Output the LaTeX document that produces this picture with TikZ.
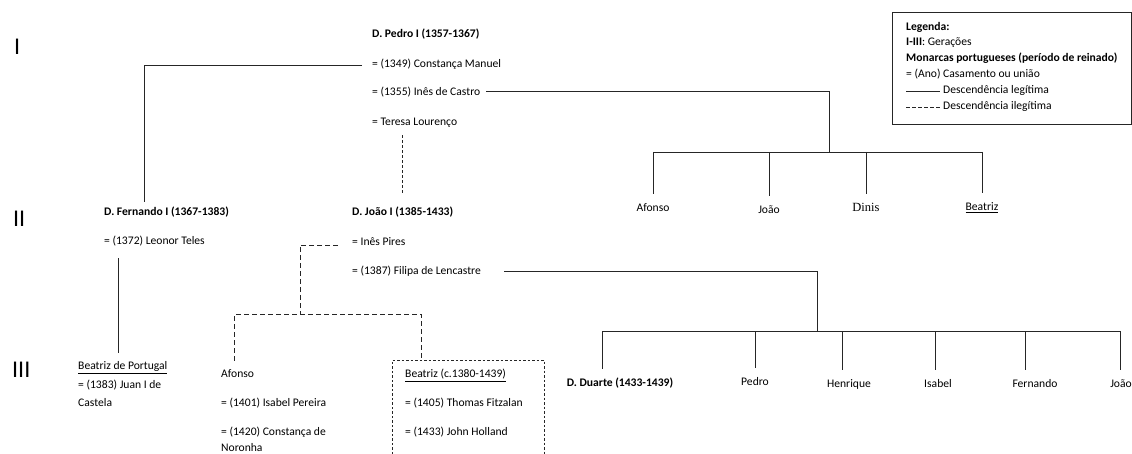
\documentclass[tikz,border=0pt]{standalone}
\usepackage{fontspec}
\setmainfont{Carlito}
\newfontfamily\timesfont{Liberation Serif}
\usepackage{tikz}

\newcommand\treefont{\fontsize{11.6}{14}\selectfont}

\begin{document}
\begin{tikzpicture}[x=1pt, y=-1pt,
    txt/.style={anchor=west, inner sep=0pt, text height=8pt, text depth=2.5pt, font=\treefont},
    monarch/.style={txt, font=\treefont\bfseries},
    child/.style={txt, anchor=center},
    gen/.style={anchor=west, inner sep=0pt, font=\fontsize{24}{24}\selectfont},
    legit/.style={draw=black!85, line width=0.8pt},
    illegit/.style={legit, dash pattern=on 5pt off 3pt},
    fine/.style={legit, dash pattern=on 3pt off 2pt},
    boxline/.style={legit, dash pattern=on 2.5pt off 2pt},
]
\useasboundingbox (0,0) rectangle (1132,454);

% generations
\node[gen] (g1) at (14,47) {I};
\node[gen] (g2) at (13,219) {II};
\node[gen] (g3) at (12,370) {III};

% Pedro I and his unions
\node[monarch] (pedro) at (372,35) {D. Pedro I (1357-1367)};
\node[txt] (pconst) at (372,65) {= (1349) Constança Manuel};
\node[txt] (pines) at (372,93) {= (1355) Inês de Castro};
\node[txt] (pteresa) at (372,123) {= Teresa Lourenço};

% generation II
\node[monarch] (fern) at (104,213) {D. Fernando I (1367-1383)};
\node[txt] (fleonor) at (104,242) {= (1372) Leonor Teles};
\node[monarch] (joao) at (352,213) {D. João I (1385-1433)};
\node[txt] (jines) at (352,243) {= Inês Pires};
\node[txt] (jfilipa) at (352,272) {= (1387) Filipa de Lencastre};

% children of Pedro and Inês de Castro
\node[child] (pafonso) at (653,209) {Afonso};
\node[child] (pjoao) at (769,211) {João};
\node[child, font=\timesfont\fontsize{12.5}{14}\selectfont] (pdinis) at (866,209) {Dinis};
\node[child] (pbeatriz) at (982,208) {\underline{Beatriz}};

\draw[legit] ([xshift=-10pt]pconst.west) -| ([xshift=40pt, yshift=6pt]fern.north west);
\draw[fine] ([yshift=-7pt]pteresa.south -| joao.north) -- ([yshift=14pt]joao.north);

\coordinate (pbar) at (829,152);
\draw[legit] ([xshift=6pt, yshift=2pt]pines.east) -| (pbar);
\draw[legit] (pafonso.north |- pbar) -- (pbeatriz.north |- pbar);
\foreach \c in {pafonso, pjoao, pdinis, pbeatriz}
    \draw[legit] (\c.north |- pbar) -- ([yshift=10pt]\c.north);

% generation III
\node[txt] (bport) at (78,367) {\underline{Beatriz de Portugal}};
\node[txt] (bjuan) at (78,386) {= (1383) Juan I de};
\node[txt] (bcastela) at (78,404) {Castela};
\draw[legit] ([xshift=-4pt, yshift=-11pt]fleonor.south -| bport.north) -- ([xshift=-4pt, yshift=9pt]bport.north);

\node[txt] (afonso) at (221,375) {Afonso};
\node[txt] (aisabel) at (221,404) {= (1401) Isabel Pereira};
\node[txt] (aconst) at (221,433) {= (1420) Constança de};
\node[txt] (anoronha) at (221,449) {Noronha};

\node[txt] (bbeatriz) at (405,375) {\underline{Beatriz (c.1380-1439)}};
\node[txt] (bthomas) at (405,404) {= (1405) Thomas Fitzalan};
\node[txt] (bjohn) at (405,433) {= (1433) John Holland};
\draw[boxline] (392,454) -- (392,360) -- (544,360) -- (544,454);

\coordinate (jbar) at (300,314);
\coordinate (btop) at (421,360);
\draw[illegit] ([xshift=-14pt, yshift=-2pt]jines.west) -| (jbar);
\draw[illegit] ([xshift=-3pt, yshift=9pt]afonso.north) |- (jbar) -| (btop);

% children of João I and Filipa
\node[monarch, anchor=center] (fduarte) at (620,384) {D. Duarte (1433-1439)};
\node[child] (fpedro) at (755,383) {Pedro};
\node[child] (fhenrique) at (849,385) {Henrique};
\node[child] (fisabel) at (938,385) {Isabel};
\node[child] (ffernando) at (1035,385) {Fernando};
\node[child] (fjoao) at (1121,385) {João};

\coordinate (fbar) at (817,331);
\draw[legit] ([xshift=23pt, yshift=1pt]jfilipa.east) -| (fbar);
\draw[legit] ([xshift=-18pt]fduarte.north |- fbar) -- ([xshift=-1pt]fjoao.north |- fbar);
\foreach \c/\s in {fduarte/-18pt, fpedro/0pt, fhenrique/-7pt, fisabel/-3pt, ffernando/-10pt, fjoao/-1pt}
    \draw[legit] ([xshift=\s]\c.north |- fbar) -- ([xshift=\s, yshift=10pt]\c.north);

% legend
\node[draw=black!85, line width=0.8pt, minimum width=239pt, minimum height=112pt,
      anchor=north west, inner sep=0pt] (legend) at (892,12) {};
\node[monarch] (lhead) at (906,28) {Legenda:};
\node[txt] (lgen) at (906,43) {\textbf{I-III}: Gerações};
\node[monarch] (lmon) at (906,59) {Monarcas portugueses (período de reinado)};
\node[txt] (lmar) at (906,75) {= (Ano) Casamento ou união};
\node[txt] (llegit) at (943,91) {Descendência legítima};
\node[txt] (lillegit) at (943,107) {Descendência ilegítima};
\draw[legit] ([xshift=-37pt]llegit.west) -- ([xshift=-3pt]llegit.west);
\draw[legit, dash pattern=on 4pt off 2pt] ([xshift=-37pt]lillegit.west) -- ([xshift=-3pt]lillegit.west);
\end{tikzpicture}
\end{document}
